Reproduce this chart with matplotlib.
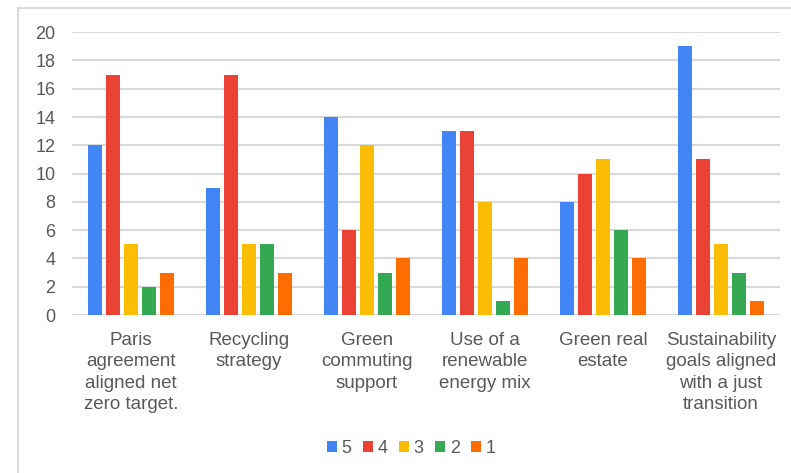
import numpy as np
import matplotlib.pyplot as plt
from matplotlib.lines import Line2D

categories = ["Paris\nagreement\naligned net\nzero target.",
              "Recycling\nstrategy",
              "Green\ncommuting\nsupport",
              "Use of a\nrenewable\nenergy mix",
              "Green real\nestate",
              "Sustainability\ngoals aligned\nwith a just\ntransition"]
series_names = ["5", "4", "3", "2", "1"]
s5 = [12, 9, 14, 13, 8, 19]
s4 = [17, 17, 6, 13, 10, 11]
s3 = [5, 5, 12, 8, 11, 5]
s2 = [2, 5, 3, 1, 6, 3]
s1 = [3, 3, 4, 4, 4, 1]
colors = ["#4285F4", "#EA4335", "#FBBC04", "#34A853", "#FF6D01"]

plt.rcParams['font.family'] = ['Liberation Sans', 'DejaVu Sans']

fig = plt.figure(figsize=(7.91, 4.73), dpi=100)
ax = fig.add_axes([0.091, 0.334, 0.895, 0.598])

x = np.arange(len(categories))
step = 0.1525
width = 0.119
for i, (vals, name) in enumerate(zip([s5, s4, s3, s2, s1], series_names)):
    ax.bar(x + (i - 2) * step, vals, width, color=colors[i], label=name, zorder=3)

ax.set_xlim(-0.5, len(categories) - 0.5)
ax.set_ylim(0, 20)
ax.set_yticks(range(0, 21, 2))
ax.grid(axis='y', color='#d9d9d9', linewidth=1.5, zorder=0)
ax.set_axisbelow(True)
for s in ax.spines.values():
    s.set_visible(False)
ax.tick_params(length=0, colors='#595959')
ax.tick_params(axis='x', pad=12, labelsize=13.5)
ax.tick_params(axis='y', pad=12, labelsize=13)
ax.set_xticks(x)
ax.set_xticklabels(categories, linespacing=1.35)

fig.legend(loc='lower center', bbox_to_anchor=(0.52, 0.0), ncol=5, frameon=False,
           handlelength=0.55, handleheight=0.55, handletextpad=0.25, columnspacing=0.65,
           fontsize=13, labelcolor='#595959')

# outer chart frame
fig.add_artist(Line2D([18/791, 18/791], [0, 1 - 8/473], color='#d9d9d9', linewidth=1.5))
fig.add_artist(Line2D([18/791, 1], [1 - 8/473, 1 - 8/473], color='#d9d9d9', linewidth=1.5))

fig.savefig("out.png", dpi=100)
